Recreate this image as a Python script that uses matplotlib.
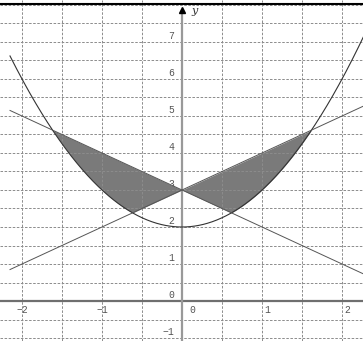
import numpy as np
import matplotlib
matplotlib.use('Agg')
import matplotlib.pyplot as plt

# curves: parabola y = x^2 + 2 and the two lines y = 3 + x, y = 3 - x
parab_coef = [1.0, 0.0, 2.0]
line_slopes = [1.0, -1.0]
line_icept = 3.0

x_ticks = [-2, -1, 1, 2]
x_tick_labels = ['\u22122', '\u22121', '1', '2']
y_ticks = [-1, 0, 1, 2, 3, 4, 5, 6, 7]
y_tick_labels = ['\u22121', '0', '1', '2', '3', '4', '5', '6', '7']

xmin, xmax = -2.275, 2.262
ymin, ymax = -1.081, 8.135
x_start = -2.15   # curves start here on the left

fig = plt.figure(figsize=(3.63, 3.41), dpi=100)
ax = fig.add_axes([0, 0, 1, 1])
ax.set_xlim(xmin, xmax)
ax.set_ylim(ymin, ymax)
ax.axis('off')

mono = 'Liberation Mono'
lab_col = '#555555'

# grid every half unit
gstyle = dict(color='#8c8c8c', lw=0.7, ls=(0, (2.6, 1.6)), zorder=3)
for gx in np.arange(-2.0, 2.01, 0.5):
    if gx != 0:
        ax.axvline(gx, **gstyle)
for gy in np.arange(-1.0, 8.01, 0.5):
    if gy != 0:
        ax.axhline(gy, **gstyle)

# axes
ax.axhline(0, color='#6f6f6f', lw=1.6, zorder=4)
ax.plot([0, 0], [ymin, 7.85], color='#999999', lw=1.6, zorder=4)
ax.plot(0, 7.87, marker='^', color='black', ms=5, zorder=5)
ax.text(0.12, 7.84, 'y', fontsize=8, style='italic', family='DejaVu Serif',
        va='center', ha='left', color='#333333')
ax.axhline(8.03, color='black', lw=1.5, zorder=5)

# tick labels (under the shading)
for t, s in zip(x_ticks, x_tick_labels):
    if t < 0:
        ax.text(t, -0.1, s, ha='center', va='top', fontsize=7, family=mono, color=lab_col, zorder=1)
    else:
        ax.text(t + 0.03, -0.1, s, ha='left', va='top', fontsize=7, family=mono, color=lab_col, zorder=1)
for t, s in zip(y_ticks, y_tick_labels):
    ax.text(-0.1, t + 0.04, s, ha='right', va='bottom', fontsize=7, family=mono, color=lab_col, zorder=1)
ax.text(0.09, -0.12, '0', ha='left', va='top', fontsize=7, family=mono, color=lab_col, zorder=1)

# curves
xs = np.linspace(x_start, xmax + 0.05, 600)
parab = np.polyval(parab_coef, xs)
ax.plot(xs, parab, color='#333333', lw=0.8, zorder=6)
for m in line_slopes:
    ax.plot(xs, m * xs + line_icept, color='#555555', lw=0.7, zorder=6)

# shaded region between the lines and the parabola
xr = np.roots(np.polysub(parab_coef, [1.0, line_icept])).real.max()
xf = np.linspace(-xr, xr, 800)
upper = line_icept + np.abs(xf)
lower = np.maximum(np.polyval(parab_coef, xf), line_icept - np.abs(xf))
ax.fill_between(xf, lower, upper, where=upper >= lower, color='#7a7a7a',
                lw=0, zorder=2)

fig.savefig('out.png', dpi=100)
